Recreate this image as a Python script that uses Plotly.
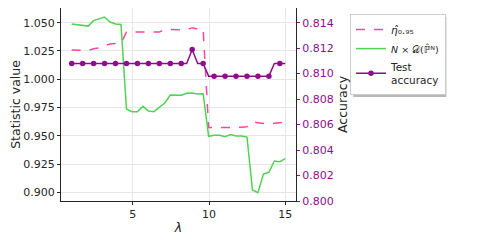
import plotly.graph_objects as go
from plotly.subplots import make_subplots

# lambda grid (40 evaluation points)
lam = [1.000, 1.359, 1.718, 2.077, 2.436, 2.795, 3.154, 3.513, 3.872, 4.231,
       4.590, 4.949, 5.308, 5.667, 6.026, 6.385, 6.744, 7.103, 7.462, 7.821,
       8.179, 8.538, 8.897, 9.256, 9.615, 9.974, 10.333, 10.692, 11.051, 11.410,
       11.769, 12.128, 12.487, 12.846, 13.205, 13.564, 13.923, 14.282, 14.641, 15.000]

# eta_hat 0.95 threshold
eta_hat = [1.0258, 1.0255, 1.0252, 1.0255, 1.0270, 1.0276, 1.0297, 1.0311, 1.0317, 1.0317,
           1.0417, 1.0417, 1.0417, 1.0417, 1.0417, 1.0417, 1.0417, 1.0441, 1.0441, 1.0441,
           1.0441, 1.0435, 1.0456, 1.0444, 1.0444, 0.9572, 0.9572, 0.9572, 0.9572, 0.9569,
           0.9572, 0.9575, 0.9580, 0.9622, 0.9616, 0.9607, 0.9604, 0.9610, 0.9616, 0.9622]

# N x D(P_hat^N) statistic
stat = [1.0488, 1.0482, 1.0476, 1.0470, 1.0518, 1.0532, 1.0550, 1.0506, 1.0488, 1.0485,
        0.9737, 0.9713, 0.9713, 0.9760, 0.9719, 0.9713, 0.9751, 0.9790, 0.9860, 0.9860,
        0.9858, 0.9875, 0.9878, 0.9869, 0.9872, 0.9495, 0.9504, 0.9504, 0.9492, 0.9510,
        0.9498, 0.9498, 0.9489, 0.9020, 0.8997, 0.9162, 0.9177, 0.9277, 0.9271, 0.9298]

# test accuracy (right axis)
acc = [0.8108] * 22 + [0.8119] + [0.8108] * 2 + [0.8098] * 12 + [0.8108] * 3

PINK = "#f7479f"
GREEN = "#4fd44f"
PURPLE = "#8b0f8b"
DARK = "#262626"
FONT = "DejaVu Sans"

fig = make_subplots(specs=[[{"secondary_y": True}]])

fig.add_trace(go.Scatter(
    x=lam, y=eta_hat, mode="lines", name="<i>η̂</i>₀.₉₅",
    line=dict(color=PINK, width=1.5, dash="dash")), secondary_y=False)

fig.add_trace(go.Scatter(
    x=lam, y=stat, mode="lines",
    name="<span style='font-size:9.5px'><i>N</i> × 𝒟(ℙ̂ᴺ)</span>",
    line=dict(color=GREEN, width=1.5)), secondary_y=False)

# full accuracy line, markers only on every other point
fig.add_trace(go.Scatter(
    x=lam, y=acc, mode="lines", showlegend=False, legendgroup="acc",
    line=dict(color=PURPLE, width=1.5)), secondary_y=True)
fig.add_trace(go.Scatter(
    x=lam[::2], y=acc[::2], mode="markers", showlegend=False, legendgroup="acc",
    marker=dict(color=PURPLE, size=5.5)), secondary_y=True)
# legend entry only
fig.add_trace(go.Scatter(
    x=[None], y=[None], mode="lines+markers", name="Test<br>accuracy", legendgroup="acc",
    line=dict(color=PURPLE, width=1.5), marker=dict(color=PURPLE, size=5.5)),
    secondary_y=True)

axis_common = dict(
    showline=True, linecolor=DARK, linewidth=1, automargin=False,
    ticks="outside", ticklen=3, tickwidth=1, tickcolor=DARK,
    tickfont=dict(size=11, color=DARK), zeroline=False,
)

fig.update_xaxes(
    domain=[0, 1], range=[0.3, 15.7], tickvals=[5, 10, 15], mirror=True,
    showgrid=True, gridcolor="#e6e6e6", gridwidth=1,
    title=dict(text="<i>λ</i>", font=dict(size=12.5, color=DARK), standoff=3),
    **axis_common)

fig.update_yaxes(
    range=[0.8923, 1.063], tickvals=[0.900, 0.925, 0.950, 0.975, 1.000, 1.025, 1.050],
    tickformat=".3f", showgrid=True, gridcolor="#e6e6e6", gridwidth=1,
    title=dict(text="Statistic value", font=dict(size=12.5, color=DARK), standoff=2),
    secondary_y=False, **axis_common)

axis_right = dict(axis_common)
axis_right.update(tickcolor=PURPLE, tickfont=dict(size=11, color=PURPLE))
fig.update_yaxes(
    range=[0.800, 0.81515], tickvals=[0.800, 0.802, 0.804, 0.806, 0.808, 0.810, 0.812, 0.814],
    tickformat=".3f", showgrid=False,
    title=dict(text="Accuracy", font=dict(size=12.5, color=DARK), standoff=6),
    secondary_y=True, **axis_right)

# soft shadow behind the legend box
fig.add_shape(type="rect", xref="paper", yref="paper",
              x0=1.244, x1=1.640, y0=0.539, y1=0.953,
              line=dict(width=0), fillcolor="#b8b8b8", layer="below")

# page body has an 8px margin, so the figure is drawn 8px smaller and offset
fig.update_layout(
    width=477, height=234,
    margin=dict(l=53, r=189, t=0, b=41),
    paper_bgcolor="white", plot_bgcolor="white",
    font=dict(family=FONT, size=11, color=DARK),
    legend=dict(xref="container", yref="container", x=0.717, y=0.974,
                xanchor="left", yanchor="top",
                bgcolor="white", bordercolor="#cccccc", borderwidth=1,
                font=dict(size=10.5), itemwidth=30, tracegroupgap=0),
)

fig.write_html("out.html")
